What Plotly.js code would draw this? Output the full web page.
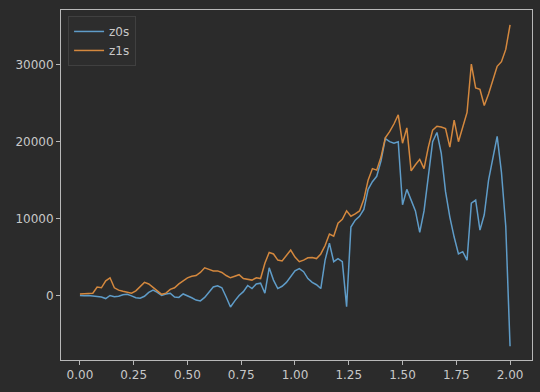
<!DOCTYPE html>
<html>
<head>
<meta charset="utf-8">
<script src="https://cdn.plot.ly/plotly-3.0.1.min.js"></script>
<style>
html,body{margin:0;padding:0;background:#2b2b2b;}
#chart{width:540px;height:392px;}
</style>
</head>
<body>
<div id="chart"></div>
<script>
const seriesNames = ["z0s", "z1s"];
const xValues = [0.00,0.02,0.04,0.06,0.08,0.10,0.12,0.14,0.16,0.18,0.20,0.22,0.24,0.26,0.28,0.30,0.32,0.34,0.36,0.38,0.40,0.42,0.44,0.46,0.48,0.50,0.52,0.54,0.56,0.58,0.60,0.62,0.64,0.66,0.68,0.70,0.72,0.74,0.76,0.78,0.80,0.82,0.84,0.86,0.88,0.90,0.92,0.94,0.96,0.98,1.00,1.02,1.04,1.06,1.08,1.10,1.12,1.14,1.16,1.18,1.20,1.22,1.24,1.26,1.28,1.30,1.32,1.34,1.36,1.38,1.40,1.42,1.44,1.46,1.48,1.50,1.52,1.54,1.56,1.58,1.60,1.62,1.64,1.66,1.68,1.70,1.72,1.74,1.76,1.78,1.80,1.82,1.84,1.86,1.88,1.90,1.92,1.94,1.96,1.98,2.00];
const z0s = [0,-50,0,-50,-150,-200,-400,0,-150,-100,100,150,-50,-300,-350,-100,400,700,400,0,200,300,-200,-250,200,0,-300,-600,-700,-250,500,1100,1250,1000,-200,-1500,-700,0,500,1300,900,1500,1600,300,3600,2000,900,1200,1700,2500,3200,3500,3100,2200,1700,1400,900,4600,6800,4400,4800,4400,-1450,8900,9800,10300,11200,13800,14800,15500,17500,20400,20000,19800,20000,11800,13800,12400,11000,8200,11000,15500,20000,21200,18500,13500,10200,7600,5400,5700,4600,12000,12400,8500,10500,15000,18000,20700,16000,9000,-6600];
const z1s = [200,250,300,300,1100,1000,1900,2300,1000,700,550,400,300,600,1100,1700,1500,1000,600,150,300,800,1000,1500,1900,2300,2500,2600,3000,3600,3400,3200,3200,3000,2600,2300,2500,2700,2200,2100,2000,2300,2200,4200,5600,5400,4600,4500,5200,5900,5000,4400,4600,4900,4950,4800,5400,6500,8000,7700,9400,9900,11000,10300,10600,11000,12500,15000,16500,16300,18000,20500,21300,22300,23500,19800,21800,16200,17000,17700,16500,19300,21500,22000,21900,21700,19300,22800,20000,21800,23800,30100,27000,26800,24700,26200,28000,29800,30400,32000,35200];
const xTicks = [0, 0.25, 0.5, 0.75, 1.0, 1.25, 1.5, 1.75, 2.0];
const yTicks = [0, 10000, 20000, 30000];

const colors = ["#5f9cc8", "#d4883e"];
const ys = [z0s, z1s];
const traces = seriesNames.map((n, i) => ({
  x: xValues, y: ys[i], name: n, type: "scatter", mode: "lines",
  line: {color: colors[i], width: 1.5}
}));

const axisCommon = {
  showline: true, mirror: true, linecolor: "#b8b8b8", linewidth: 1,
  ticks: "outside", ticklen: 4, tickwidth: 1, tickcolor: "#b8b8b8",
  showgrid: false, zeroline: false,
  tickfont: {family: "DejaVu Sans", size: 12, color: "#c8c8c8"}
};

const layout = {
  width: 540, height: 392,
  paper_bgcolor: "#2b2b2b", plot_bgcolor: "#2b2b2b",
  margin: {l: 61, r: 8, t: 10, b: 32},
  showlegend: true,
  legend: {
    x: 0.015, y: 0.983, xanchor: "left", yanchor: "top",
    bgcolor: "#2d2d2d", bordercolor: "#404040", borderwidth: 1,
    font: {family: "DejaVu Sans", size: 12, color: "#c8c8c8"},
    itemwidth: 30, tracegroupgap: 0
  },
  xaxis: Object.assign({}, axisCommon, {
    range: [-0.088, 2.102], tickmode: "array", tickvals: xTicks,
    ticktext: xTicks.map(v => v.toFixed(2))
  }),
  yaxis: Object.assign({}, axisCommon, {
    range: [-8390, 37126], tickmode: "array", tickvals: yTicks,
    ticktext: yTicks.map(v => String(v))
  })
};

Plotly.newPlot("chart", traces, layout, {displayModeBar: false, staticPlot: true});
</script>
</body>
</html>
